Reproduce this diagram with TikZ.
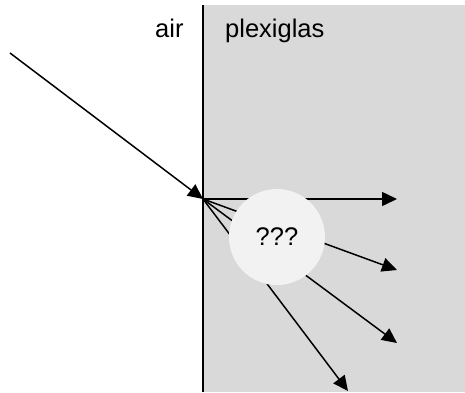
\documentclass[tikz,border=0pt]{standalone}
\usepackage{fontspec}
\setmainfont{Liberation Sans}
\usetikzlibrary{arrows.meta}
\definecolor{glass}{HTML}{D9D9D9}
\definecolor{bubble}{HTML}{F2F2F2}
\begin{document}
\begin{tikzpicture}[x=1pt,y=-1pt,
  ray/.style={line width=1.5pt,-{Triangle[length=15pt,width=14pt]}},
  lbl/.style={inner sep=0pt,anchor=base west,font=\fontsize{25.5}{30}\selectfont}]
\useasboundingbox (0,0) rectangle (465,392);
\fill[glass] (203,5) rectangle (465,392);
\draw[line width=2pt] (203,5) -- (203,392);
\coordinate (src) at (10,53);
\coordinate (o) at (203,199);
\coordinate (t1) at (397,199);
\coordinate (t2) at (397,270);
\coordinate (t3) at (397,343);
\coordinate (t4) at (348,391);
\draw[ray] (src) -- (o);
\draw[ray] (o) -- (t1);
\draw[ray] (o) -- (t2);
\draw[ray] (o) -- (t3);
\draw[ray] (o) -- (t4);
\node[circle,fill=bubble,minimum size=96pt,inner sep=0pt,font=\fontsize{25.5}{30}\selectfont] (q) at (277,237) {???};
\node[lbl] (air) at (155,37) {air};
\node[lbl] (plex) at (225,37) {plexiglas};
\end{tikzpicture}
\end{document}
